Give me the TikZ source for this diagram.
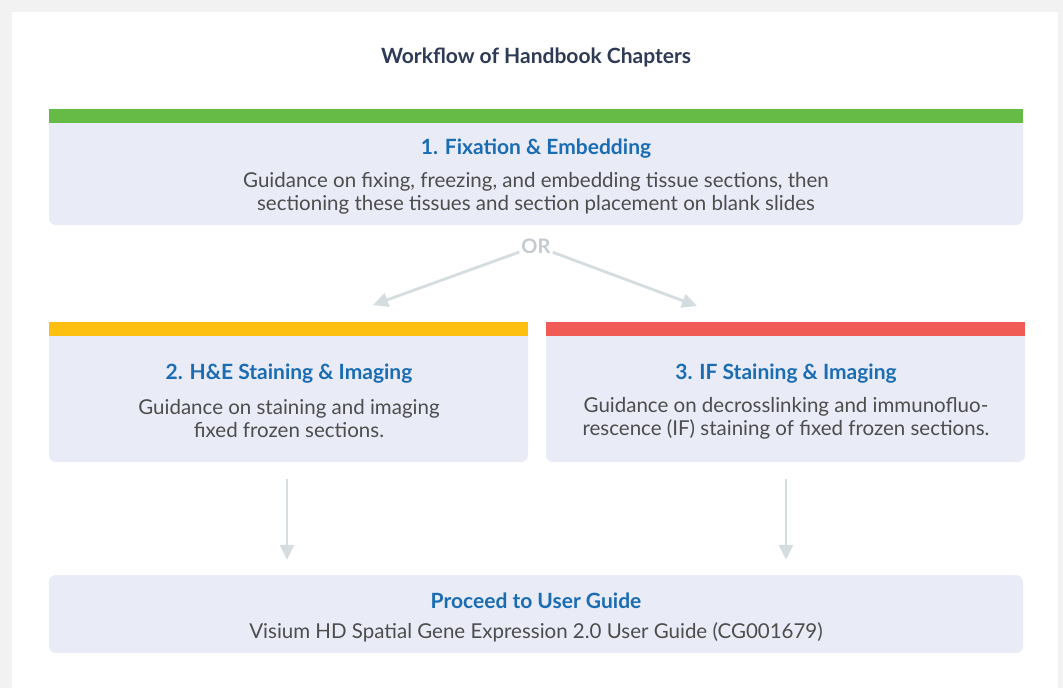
\documentclass[tikz,border=0pt]{standalone}
\usepackage{fontspec}
\setmainfont{Lato}
\usetikzlibrary{arrows.meta}
\definecolor{bgGrey}{HTML}{F2F2F2}
\definecolor{boxLav}{HTML}{E9EBF6}
\definecolor{barGreen}{HTML}{66BB46}
\definecolor{barYellow}{HTML}{FDC010}
\definecolor{barRed}{HTML}{F15B55}
\definecolor{headBlue}{HTML}{1A6CB3}
\definecolor{bodyGrey}{HTML}{4D4D4D}
\definecolor{titleNavy}{HTML}{2E3A56}
\definecolor{arrGrey}{HTML}{D6DDE0}
\definecolor{orGrey}{HTML}{C4CACF}
\begin{document}
\begin{tikzpicture}[x=1pt, y=-1pt,
  box/.style={fill=boxLav, rounded corners=7pt, inner sep=0pt},
  head/.style={text=headBlue, font=\fontsize{21}{24}\selectfont\bfseries},
  body/.style={text=bodyGrey, font=\fontsize{20.5}{23.5}\selectfont, align=center},
  arr/.style={draw=arrGrey, line width=2.8pt, -{Triangle[length=15pt, width=14pt]}}]
\useasboundingbox (0,0) rectangle (1063,688);
\fill[bgGrey] (0,0) rectangle (1063,688);
\fill[white] (12,12) rectangle (1058,688);
\node (T_0) at (536,57) {\fontsize{21}{24}\selectfont\bfseries\color{titleNavy}Workflow of Handbook Chapters};
\node[box, minimum width=974pt, minimum height=116pt] (B_1) at (536,167) {};
\fill[barGreen] (B_1.north west) rectangle ++(974,14);
\node[head] (T_1) at (536,148.5) {1. Fixation \& Embedding};
\node[body] (D_1) at (536,193.5) {Guidance on fixing, freezing, and embedding tissue sections, then\\sectioning these tissues and section placement on blank slides};
\node[text=orGrey, font=\fontsize{20}{22}\selectfont\bfseries, inner sep=2pt] (O) at (536,246) {OR};
\coordinate (A_2) at (373,305);
\coordinate (A_3) at (697,306);
\draw[arr] (O) -- (A_2);
\draw[arr] (O) -- (A_3);
\node[box, minimum width=479pt, minimum height=140pt] (B_2) at (288.5,392) {};
\fill[barYellow] (B_2.north west) rectangle ++(479,14);
\node[head] (T_2) at (289,373.5) {2. H\&E Staining \& Imaging};
\node[body] (D_2) at (289,418.5) {Guidance on staining and imaging\\fixed frozen sections.};
\node[box, minimum width=479pt, minimum height=140pt] (B_3) at (785.5,392) {};
\fill[barRed] (B_3.north west) rectangle ++(479,14);
\node[head] (T_3) at (786,373.5) {3. IF Staining \& Imaging};
\node[body] (D_3) at (786,418.5) {Guidance on decrosslinking and immunofluo-\\rescence (IF) staining of fixed frozen sections.};
\node[box, minimum width=974pt, minimum height=78pt] (B_4) at (536,614) {};
\node[head] (T_4) at (536,600.5) {Proceed to User Guide};
\node[body] (D_4) at (536,632) {Visium HD Spatial Gene Expression 2.0 User Guide (CG001679)};
\draw[arr, shorten <=17pt, shorten >=15pt] (B_2.south -| 287,0) -- (B_4.north -| 287,0);
\draw[arr, shorten <=17pt, shorten >=15pt] (B_3.south -| 786,0) -- (B_4.north -| 786,0);
\end{tikzpicture}
\end{document}
